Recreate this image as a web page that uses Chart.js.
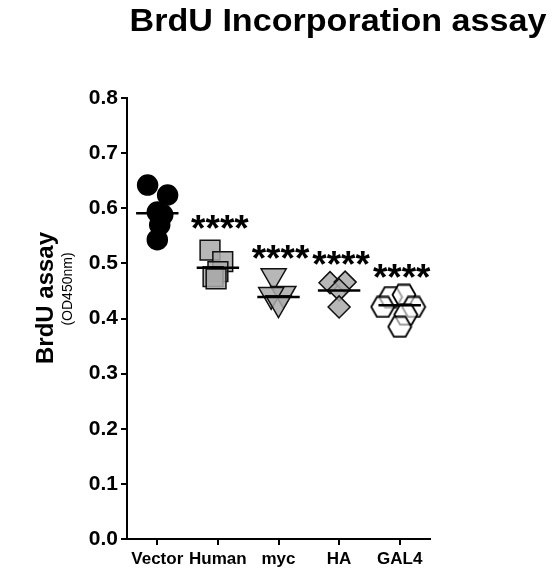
<!DOCTYPE html>
<html>
<head>
<meta charset="utf-8">
<script src="https://cdn.jsdelivr.net/npm/chart.js@4"></script>
<style>
  html, body { margin: 0; padding: 0; background: #fff; }
  canvas { display: block; }
</style>
</head>
<body>
<canvas id="brduChart" width="559" height="571"></canvas>
<script>
// BrdU incorporation, OD450nm per construct
const categories = ["Vector", "Human", "myc", "HA", "GAL4"];

const vectorValues = [0.642, 0.624, 0.593, 0.588, 0.570, 0.543];
const humanValues = [0.524, 0.503, 0.485, 0.476, 0.472];
const mycValues = [0.477, 0.445, 0.443, 0.428];
const haValues = [0.465, 0.466, 0.452, 0.421];
const gal4Values = [0.439, 0.443, 0.421, 0.421, 0.407, 0.385];

// horizontal scatter of the dots around each category
const vectorJitter = [-0.16, 0.17, 0.0, 0.09, 0.04, 0.0];
const humanJitter = [-0.13, 0.08, 0.0, -0.08, -0.03];
const mycJitter = [-0.08, 0.08, -0.12, 0.0];
const haJitter = [-0.15, 0.10, 0.0, 0.0];
const gal4Jitter = [-0.15, 0.07, -0.28, 0.23, 0.10, 0.0];

// mean bars as drawn in the figure
const meanValues = [0.591, 0.492, 0.439, 0.451, 0.424];

// significance marks vs Vector (null = no mark)
const starLabels = [null, "****", "****", "****", "****"];
const starHeights = [null, 0.574, 0.519, 0.508, 0.485];

const yTicks = [0, 0.1, 0.2, 0.3, 0.4, 0.5, 0.6, 0.7, 0.8];

const FONT = "'Liberation Sans', Arial, sans-serif";
const GREY = "rgba(170,170,170,0.85)";

function toPoints(values, jitter, pos) {
  return values.map((v, i) => ({ x: pos + jitter[i], y: v }));
}

// hexagon marker (not a built-in pointStyle)
function makeHexagon() {
  const c = document.createElement("canvas");
  c.width = 26;
  c.height = 23;
  const g = c.getContext("2d");
  const cx = 13, cy = 11.5, rx = 11.5, ry = 10;
  g.beginPath();
  g.moveTo(cx - rx, cy);
  g.lineTo(cx - rx / 2, cy - ry);
  g.lineTo(cx + rx / 2, cy - ry);
  g.lineTo(cx + rx, cy);
  g.lineTo(cx + rx / 2, cy + ry);
  g.lineTo(cx - rx / 2, cy + ry);
  g.closePath();
  g.fillStyle = "rgba(255,255,255,0.6)";
  g.fill();
  g.lineWidth = 1.8;
  g.strokeStyle = "#000";
  g.stroke();
  return c;
}

const meanLines = meanValues.map((m, i) => ({
  type: "line",
  data: [{ x: i + 1 - 0.35, y: m }, { x: i + 1 + 0.35, y: m }],
  borderColor: "#000",
  borderWidth: 2.5,
  pointRadius: 0,
  order: 0
}));

const groups = [
  { data: toPoints(vectorValues, vectorJitter, 1), pointStyle: "circle", pointRadius: 10, backgroundColor: "#000", borderColor: "#000" },
  { data: toPoints(humanValues, humanJitter, 2), pointStyle: "rect", pointRadius: 14, backgroundColor: GREY, borderColor: "#111" },
  { data: toPoints(mycValues, mycJitter, 3), pointStyle: "triangle", pointRotation: 180, pointRadius: 14.5, backgroundColor: GREY, borderColor: "#111" },
  { data: toPoints(haValues, haJitter, 4), pointStyle: "rectRot", pointRadius: 11, backgroundColor: GREY, borderColor: "#111" },
  { data: toPoints(gal4Values, gal4Jitter, 5), pointStyle: makeHexagon(), pointRadius: 11 }
].map((d) => Object.assign({ type: "scatter", borderWidth: 1.5, order: 1, clip: false }, d));

// title, axis title and the asterisks
const textPlugin = {
  id: "figureText",
  afterDraw(chart) {
    const ctx = chart.ctx;
    const yScale = chart.scales.y;
    const xScale = chart.scales.x;
    ctx.save();
    ctx.fillStyle = "#000";

    ctx.save();
    ctx.font = "bold 31px " + FONT;
    ctx.textAlign = "center";
    ctx.translate(338, 31);
    ctx.scale(1.1, 1);
    ctx.fillText("BrdU Incorporation assay", 0, 0);
    ctx.restore();

    ctx.save();
    ctx.translate(53, 298);
    ctx.rotate(-Math.PI / 2);
    ctx.textAlign = "center";
    ctx.font = "bold 24px " + FONT;
    ctx.fillText("BrdU assay", 0, 0);
    ctx.restore();

    ctx.save();
    ctx.translate(72, 289);
    ctx.rotate(-Math.PI / 2);
    ctx.textAlign = "center";
    ctx.font = "14px " + FONT;
    ctx.fillText("(OD450nm)", 0, 0);
    ctx.restore();

    ctx.font = "bold 37px " + FONT;
    ctx.textAlign = "center";
    starLabels.forEach((s, i) => {
      if (!s) return;
      const px = xScale.getPixelForValue(i + 1);
      const py = yScale.getPixelForValue(starHeights[i]);
      ctx.fillText(s, px + 2, py + 18);
    });
    ctx.restore();
  }
};

new Chart(document.getElementById("brduChart"), {
  data: { datasets: groups.concat(meanLines) },
  options: {
    responsive: false,
    animation: false,
    devicePixelRatio: 1,
    layout: { padding: { top: 98, right: 129, left: 0, bottom: 0 } },
    plugins: { legend: { display: false }, tooltip: { enabled: false } },
    scales: {
      x: {
        type: "linear",
        min: 0.5,
        max: 5.5,
        afterBuildTicks: (scale) => { scale.ticks = categories.map((c, i) => ({ value: i + 1 })); },
        afterFit: (scale) => { scale.height = 32; },
        ticks: {
          callback: (v) => categories[Math.round(v) - 1],
          color: "#000",
          font: { family: FONT, size: 17, weight: "bold" },
          padding: 4,
          maxRotation: 0,
          autoSkip: false
        },
        grid: { drawOnChartArea: false, color: "#000", lineWidth: 2, tickLength: 6 },
        border: { color: "#000", width: 2 }
      },
      y: {
        min: 0,
        max: 0.8,
        afterBuildTicks: (scale) => { scale.ticks = yTicks.map((v) => ({ value: v })); },
        afterFit: (scale) => { scale.width = 127; },
        ticks: {
          callback: (v) => v.toFixed(1),
          color: "#000",
          font: { family: FONT, size: 21, weight: "bold" },
          padding: 3
        },
        grid: { drawOnChartArea: false, color: "#000", lineWidth: 2, tickLength: 6 },
        border: { color: "#000", width: 2 }
      }
    }
  },
  plugins: [textPlugin]
});
</script>
</body>
</html>
